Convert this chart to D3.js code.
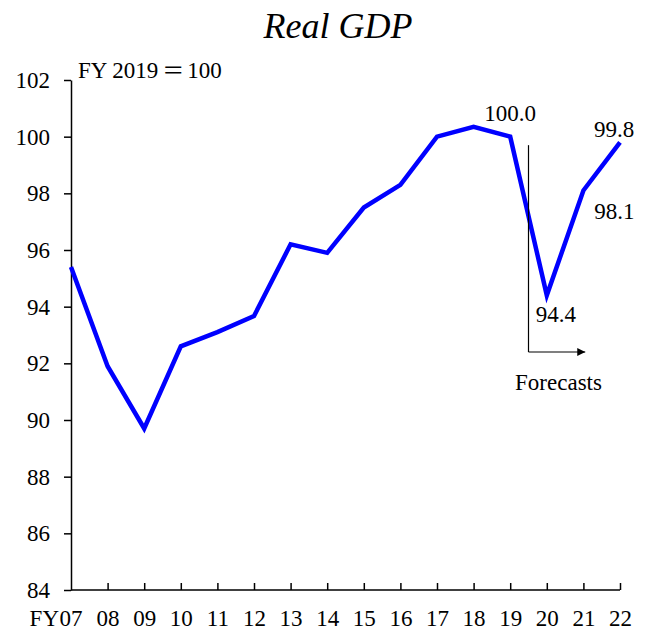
<!DOCTYPE html>
<html>
<head>
<meta charset="utf-8">
<script src="https://cdn.jsdelivr.net/npm/d3@7"></script>
<style>
	body{margin:0;background:#fff;}
	text{font-family:"Liberation Serif","Times New Roman",serif;fill:#000;}
</style>
</head>
<body>
<div id="chart"></div>
<script>
// fiscal years and real GDP index (FY2019 = 100)
var years=["07","08","09","10","11","12","13","14","15","16","17","18","19","20","21","22"];
var gdp=[95.4,91.9,89.7,92.6,93.1,93.67,96.2,95.9,97.5,98.3,100.0,100.35,100.0,94.4,98.1,99.8];
var yTicks=[84,86,88,90,92,94,96,98,100,102];
// value labels: index into years, text
var labelIdx=[12,13,14,15];
var labelTxt=["100.0","94.4","98.1","99.8"];

var W=649,H=631;
var fs="23px";
var svg=d3.select("#chart").append("svg").attr("width",W).attr("height",H);

var x=d3.scaleLinear().domain([0,years.length-1]).range([71,620]);
var y=d3.scaleLinear().domain([84,102]).range([590,80]);

// title
svg.append("text")
	.attr("x",338).attr("y",38)
	.attr("text-anchor","middle")
	.style("font-size","36px").style("font-style","italic")
	.text("Real GDP");

var unit=svg.append("text")
	.attr("x",78).attr("y",78)
	.style("font-size",fs);
unit.append("tspan").text("FY 2019");
unit.append("tspan").attr("dx",4).style("font-family","'Noto Sans CJK JP'").style("font-size","22px").text("\uFF1D");
unit.append("tspan").attr("dx",3).text("100");

// y axis
var yAxis=svg.append("g")
	.attr("transform","translate("+x(0)+",0)")
	.call(d3.axisLeft(y).tickValues(yTicks).tickSize(7).tickPadding(14).tickSizeOuter(0));
yAxis.selectAll("text").style("font-size",fs).attr("font-family",null);

// x axis, ticks pointing up
var xAxis=svg.append("g")
	.attr("transform","translate(0,"+y(84)+")")
	.call(d3.axisBottom(x).tickValues(d3.range(1,years.length)).tickSize(-7).tickSizeOuter(0)
		.tickFormat(function(d){return years[d];}));
xAxis.selectAll("text").style("font-size",fs).attr("font-family",null).attr("y",20);
xAxis.select(".domain").attr("d","M"+x(0)+",0H"+x(years.length-1));
xAxis.append("text").attr("x",x(0)).attr("y",20).attr("dy","0.71em")
	.attr("text-anchor","middle").style("font-size",fs).text(years[0]);
xAxis.append("text").attr("x",x(0)-12).attr("y",20).attr("dy","0.71em")
	.attr("text-anchor","end").style("font-size",fs).text("FY");

svg.selectAll(".domain, .tick line").attr("stroke","#000").attr("stroke-width",1.5);

// line
var line=d3.line().x(function(d,i){return x(i);}).y(function(d){return y(d);});
svg.append("path")
	.datum(gdp)
	.attr("d",line)
	.attr("fill","none")
	.attr("stroke","#0000ff")
	.attr("stroke-width",4.5)
	.attr("stroke-linejoin","miter");

// forecast marker
var fx=x(12.5);
svg.append("defs").append("marker")
	.attr("id","arr").attr("viewBox","0 0 10 10").attr("refX",10).attr("refY",5)
	.attr("markerWidth",10).attr("markerHeight",8).attr("markerUnits","userSpaceOnUse")
	.attr("orient","auto")
	.append("path").attr("d","M0,0L10,5L0,10Z").attr("fill","#000");
svg.append("line")
	.attr("x1",fx).attr("x2",fx).attr("y1",y(99.7)).attr("y2",y(92.4))
	.attr("stroke","#000").attr("stroke-width",1.2);
svg.append("line")
	.attr("x1",fx).attr("x2",x(14.05)).attr("y1",y(92.4)).attr("y2",y(92.4))
	.attr("stroke","#000").attr("stroke-width",1.2)
	.attr("marker-end","url(#arr)");
svg.append("text")
	.attr("x",fx+30).attr("y",y(91.06))
	.attr("text-anchor","middle").style("font-size",fs)
	.text("Forecasts");

// value labels
var off=[[0,-16],[9,27],[31,28],[-6,-5]];
svg.selectAll(".vlab")
	.data(labelIdx)
	.enter()
	.append("text")
	.attr("class","vlab")
	.attr("x",function(d,i){return x(d)+off[i][0];})
	.attr("y",function(d,i){return y(gdp[d])+off[i][1];})
	.attr("text-anchor","middle")
	.style("font-size",fs)
	.text(function(d,i){return labelTxt[i];});
</script>
</body>
</html>
